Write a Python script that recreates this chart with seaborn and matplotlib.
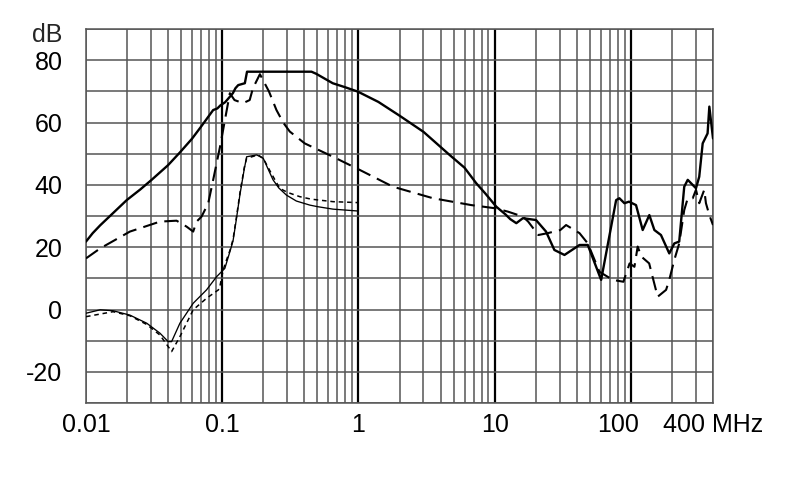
import matplotlib
matplotlib.use("Agg")
import matplotlib.pyplot as plt
from matplotlib.ticker import NullLocator
import seaborn as sns

# ── curve data (frequency in MHz, level in dB) ──
main_f = [0.01, 0.0112, 0.0127, 0.015, 0.0199, 0.025, 0.0303, 0.04, 0.0489, 0.06,
          0.07, 0.0858, 0.092, 0.097, 0.105, 0.1197, 0.125, 0.131, 0.1465, 0.152,
          0.452, 0.491, 0.647, 0.8, 0.99, 1.4, 2.0, 3.0, 4.66, 6.0, 7.32, 8.5,
          10.26, 12.0, 13.0, 14.4, 16.1, 20.1, 23.8, 27.4, 32.5, 41.9, 48.2, 60.4,
          77.8, 82.2, 89.5, 96.7, 108.9, 121.9, 136.4, 148.5, 166, 191, 208, 226,
          246, 261, 300, 317, 336, 365, 376, 400]
main_db = [21.8, 24.5, 27.0, 30.0, 35.1, 38.5, 41.6, 46.3, 50.4, 54.8,
           58.7, 64.0, 64.5, 65.5, 66.5, 69.4, 71.0, 72.0, 72.6, 76.3,
           76.3, 75.6, 72.6, 71.3, 69.9, 66.6, 62.2, 57.0, 49.6, 45.5, 40.5, 37.3,
           33.0, 30.5, 29.0, 27.7, 29.3, 28.7, 25.0, 19.1, 17.5, 20.7, 20.7, 9.5,
           35.1, 35.7, 34.1, 34.6, 33.5, 25.5, 30.3, 25.5, 23.9, 18.0, 21.2, 21.8,
           39.4, 41.6, 38.9, 42.6, 53.3, 56.5, 65.1, 54.9]

dash_f = [0.01, 0.0127, 0.021, 0.0349, 0.0462, 0.0547, 0.0612, 0.0648, 0.0705, 0.0789,
          0.0858, 0.0963, 0.1137, 0.123, 0.142, 0.159, 0.168, 0.189, 0.22, 0.25,
          0.28, 0.313, 0.403, 0.65, 1.02, 1.79, 3.52, 6.73, 10.0, 12.5, 16.1, 17.6,
          20.9, 24.5, 30.3, 33.4, 41.9, 48.2, 58.7, 73.5, 88, 97.7, 106, 112, 119,
          136, 144, 157, 181, 191, 208, 226, 246, 261, 284, 300, 317, 345, 355,
          376, 400]
dash_db = [16.4, 19.6, 25.0, 28.2, 28.5, 26.6, 25.0, 28.2, 29.8, 34.1,
           41.6, 52.2, 69.4, 67.2, 66.2, 67.2, 71.0, 75.5, 70.0, 64.0,
           60.0, 57.1, 53.3, 49.0, 44.8, 39.4, 35.7, 33.5, 32.5, 31.4, 29.8, 28.2,
           23.9, 24.5, 25.5, 27.1, 24.5, 21.2, 12.1, 9.5, 8.9, 14.8, 13.7, 20.2, 17.0,
           14.8, 10.5, 4.1, 6.3, 9.5, 15.9, 21.2, 31.9, 35.7, 35.7, 38.4, 34.1, 38.4,
           34.1, 30.3, 27.1]

thin_f = [0.01, 0.0127, 0.0158, 0.021, 0.0279, 0.0349, 0.0401, 0.0425, 0.0489, 0.0612,
          0.0767, 0.0908, 0.1045, 0.1137, 0.12, 0.127, 0.135, 0.145, 0.151, 0.179,
          0.2, 0.22, 0.236, 0.26, 0.296, 0.35, 0.439, 0.5, 0.65, 0.99]
thin_db = [-1.2, -0.1, -0.4, -1.8, -4.4, -7.6, -10.3, -10.3, -4.4, 2.0,
           6.3, 10.5, 13.2, 18.5, 22.0, 29.0, 37.0, 45.0, 49.0, 49.6,
           48.5, 44.5, 41.6, 39.0, 36.7, 34.8, 33.5, 33.0, 32.2, 31.6]

dot_f = [0.01, 0.0158, 0.021, 0.0279, 0.0349, 0.0401, 0.0425, 0.0489, 0.0612, 0.0767,
         0.0937, 0.096, 0.1016, 0.1075, 0.114, 0.12, 0.127, 0.135, 0.145, 0.151,
         0.183, 0.2, 0.229, 0.264, 0.3, 0.371, 0.45, 0.65, 0.99]
dot_db = [-2.3, -0.7, -2.0, -4.8, -8.2, -11.9, -13.5, -8.7, -0.1, 3.6,
          6.3, 7.3, 12.7, 15.9, 19.0, 22.5, 29.5, 37.5, 45.5, 48.5,
          49.6, 48.5, 43.7, 38.9, 37.6, 36.2, 35.4, 34.6, 34.3]

xtick_pos = [0.01, 0.1, 1, 10, 80, 400]
xtick_labels = ["0.01", "0.1", "1", "10", "100", "400 MHz"]
ytick_pos = [-20, 0, 20, 40, 60, 80]
ytick_labels = ["-20", "0", "20", "40", "60", "80"]

GRID = "#555555"

sns.set_theme(style="white")
plt.rcParams["font.family"] = ["Liberation Sans", "DejaVu Sans"]

fig = plt.figure(figsize=(7.9, 4.99), dpi=100)
ax = fig.add_axes([86 / 790, 1 - 403 / 499, 627 / 790, 374 / 499])
ax.set_xscale("log")

# grid: minor lines in grey, decade lines in black
for exp in range(-2, 3):
    for m in range(1, 10):
        v = m * 10.0 ** exp
        if v > 400:
            break
        if m == 1 and exp > -2:
            ax.axvline(v, color="black", lw=1.6, zorder=1)
        else:
            ax.axvline(v, color=GRID, lw=1.1, zorder=1)
for y in range(-30, 91, 10):
    ax.axhline(y, color=GRID, lw=1.1, zorder=1)

sns.lineplot(x=main_f, y=main_db, ax=ax, color="black", lw=1.7,
             sort=False, estimator=None, zorder=3)
sns.lineplot(x=dash_f, y=dash_db, ax=ax, color="black", lw=1.5,
             linestyle=(0, (7, 3.5)), sort=False, estimator=None, zorder=3)
sns.lineplot(x=thin_f, y=thin_db, ax=ax, color="black", lw=0.95,
             sort=False, estimator=None, zorder=3)
sns.lineplot(x=dot_f, y=dot_db, ax=ax, color="black", lw=1.1,
             linestyle=(0, (3, 2.5)), sort=False, estimator=None, zorder=3)

ax.set_xlim(0.01, 400)
ax.set_ylim(-30, 90)
ax.xaxis.set_minor_locator(NullLocator())
ax.set_xticks(xtick_pos, xtick_labels)
ax.set_yticks(ytick_pos, ytick_labels)
ax.tick_params(axis="both", length=0, labelsize=18, colors="black")
ax.tick_params(axis="y", pad=17)
ax.tick_params(axis="x", pad=7)
ax.set_xlabel("")
ax.set_ylabel("")
for s in ax.spines.values():
    s.set_color(GRID)
    s.set_linewidth(1.1)

ax.annotate("dB", xy=(0, 90), xycoords=("axes fraction", "data"),
            xytext=(-17, -4), textcoords="offset points",
            ha="right", va="center", fontsize=18)

fig.savefig("out.png", dpi=100)
